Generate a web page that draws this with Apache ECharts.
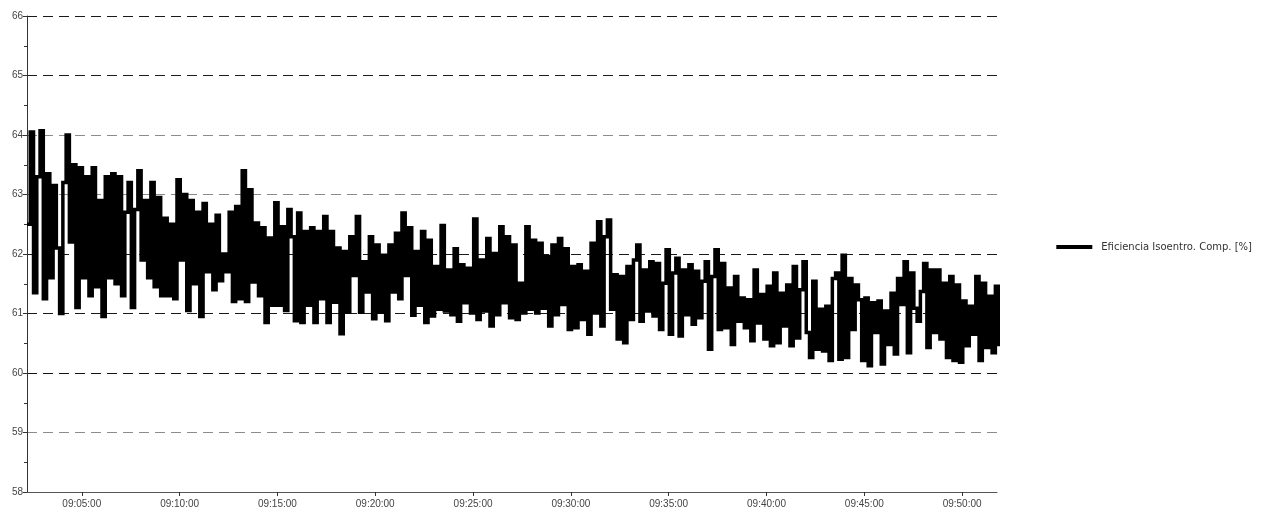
<!DOCTYPE html>
<html><head><meta charset="utf-8">
<script src="https://cdn.jsdelivr.net/npm/echarts@6/dist/echarts.min.js"></script>
<style>html,body{margin:0;padding:0;background:#fff}#c{width:1263px;height:513px}</style>
</head><body><div id="c"></div>
<script>
const seriesName = 'Eficiencia Isoentro. Comp. [%]';
const startTime = '09:02:12';
const endTime = '09:51:47';
const sampleSeconds = 10;
const xTickLabels = ['09:05:00','09:10:00','09:15:00','09:20:00','09:25:00','09:30:00','09:35:00','09:40:00','09:45:00','09:50:00'];
const yMin = 58, yMax = 66, yStep = 1;
// grid line colours from 58 up to 66
const gridLineColors = ['#222','#8a8a8a','#111','#1a1a1a','#1a1a1a','#8a8a8a','#8a8a8a','#1a1a1a','#1a1a1a'];

const efficiency = [
62.5,64.05,61.35,63.3,64.07,61.25,63.35,61.6,63.15,62.1,
61.0,63.2,64.0,62.2,63.5,61.1,63.45,61.6,63.3,61.3,
63.45,61.45,62.9,60.95,63.3,61.6,63.35,61.5,63.3,61.3,
62.7,63.2,61.1,62.75,63.4,61.9,62.9,61.6,63.2,61.45,
62.95,61.3,62.6,61.3,62.5,61.25,63.25,61.9,63.0,61.05,
62.9,61.5,62.7,60.95,62.85,61.7,62.5,61.4,62.65,61.55,
62.0,61.7,62.7,61.2,62.8,61.25,63.4,61.2,63.08,61.53,
62.52,61.3,62.44,60.85,62.27,61.14,62.86,61.14,62.46,61.05,
62.75,62.29,60.88,62.69,60.85,62.38,61.14,62.44,60.85,62.38,
61.25,62.63,60.85,62.38,61.19,62.1,60.66,62.04,61.02,62.29,
61.64,62.63,61.02,61.87,61.36,62.29,60.91,62.15,61.02,61.98,
60.88,62.15,61.36,62.35,61.25,62.69,61.64,62.44,60.97,62.04,
61.14,62.38,60.85,62.23,60.96,61.79,61.07,62.48,61.04,61.73,
60.98,62.09,60.87,61.82,61.18,61.76,61.01,62.59,60.9,61.9,
61.04,62.26,60.79,62.01,60.98,62.46,61.18,62.29,60.93,62.15,
60.9,61.51,61.01,62.46,61.07,62.23,61.01,62.18,61.09,61.96,
60.79,62.15,60.98,62.26,61.15,62.09,60.73,61.79,60.76,61.82,
60.9,61.71,60.65,62.18,61.01,62.54,60.79,62.29,62.57,61.07,
61.65,60.57,61.62,60.51,61.79,60.9,61.9,62.15,60.87,61.73,
61.04,61.87,60.96,61.84,60.73,61.51,62.07,60.65,61.68,61.93,
60.62,61.73,60.98,61.82,60.82,61.71,60.93,61.54,61.87,60.4,
61.62,62.07,60.73,61.84,60.76,61.43,60.48,61.62,60.87,61.26,
60.76,61.23,60.54,61.73,60.84,61.32,60.57,61.46,60.46,61.68,
60.51,61.34,60.79,61.48,60.46,61.79,60.59,61.4,61.87,60.68,
60.26,61.54,60.4,61.07,60.37,61.12,60.21,61.59,61.68,60.23,
61.98,60.26,61.59,60.73,61.48,61.23,60.21,61.26,60.12,61.18,
60.68,61.21,60.15,61.04,60.48,61.34,60.32,61.59,61.15,61.87,
60.34,61.68,61.09,60.87,61.37,61.84,60.43,61.73,60.68,61.73,
60.57,61.51,60.26,61.62,60.21,61.48,60.18,61.21,60.46,61.12,
60.65,61.62,60.21,61.51,60.43,61.29,60.34,61.46,60.48,60.5
];

function toSec(s){const p=s.split(':').map(Number);return p[0]*3600+p[1]*60+p[2];}
function fmt(sec){const h=Math.floor(sec/3600),m=Math.floor(sec%3600/60),s=Math.round(sec%60);const z=n=>String(n).padStart(2,'0');return z(h)+':'+z(m)+':'+z(s);}
const t0 = toSec(startTime);
const data = efficiency.map((v,i)=>[t0+i*sampleSeconds, v]);
const tickSecs = xTickLabels.map(toSec);

const font = '"Liberation Sans Narrow","Liberation Sans",Arial,sans-serif';
const chart = echarts.init(document.getElementById('c'), null, {renderer:'canvas'});
chart.setOption({
  animation:false,
  backgroundColor:'#fff',
  grid:{left:27, top:16, right:266, bottom:21, containLabel:false},
  legend:{
    right:6, top:237, orient:'vertical',
    icon:'rect', itemWidth:36, itemHeight:4, itemGap:10,
    textStyle:{fontFamily:'"DejaVu Sans",sans-serif', fontSize:10, color:'#333', padding:[0,0,0,4]},
    data:[seriesName]
  },
  xAxis:{
    type:'value', min:toSec(startTime), max:toSec(endTime),
    axisLine:{show:true, lineStyle:{color:'#555', width:1}},
    axisTick:{show:true, length:4, inside:false, customValues:tickSecs, lineStyle:{color:'#333'}},
    axisLabel:{customValues:tickSecs, formatter:v=>fmt(v), fontFamily:font, fontSize:10, color:'#444', margin:7},
    splitLine:{show:false}
  },
  yAxis:{
    type:'value', min:yMin, max:yMax, interval:yStep,
    axisLine:{show:true, lineStyle:{color:'#333', width:1}},
    axisTick:{show:true, length:4, lineStyle:{color:'#333'}},
    minorTick:{show:true, splitNumber:2, length:3, lineStyle:{color:'#333'}},
    axisLabel:{fontFamily:font, fontSize:10, color:'#444', margin:4},
    splitLine:{show:true, lineStyle:{color:gridLineColors, type:[10,6], width:1}}
  },
  series:[{
    name:seriesName, type:'line', step:'end', data:data,
    showSymbol:false, symbol:'none',
    lineStyle:{color:'#000', width:3.5, cap:'butt', join:'miter'},
    itemStyle:{color:'#000'},
    clip:true
  }]
});
</script></body></html>
